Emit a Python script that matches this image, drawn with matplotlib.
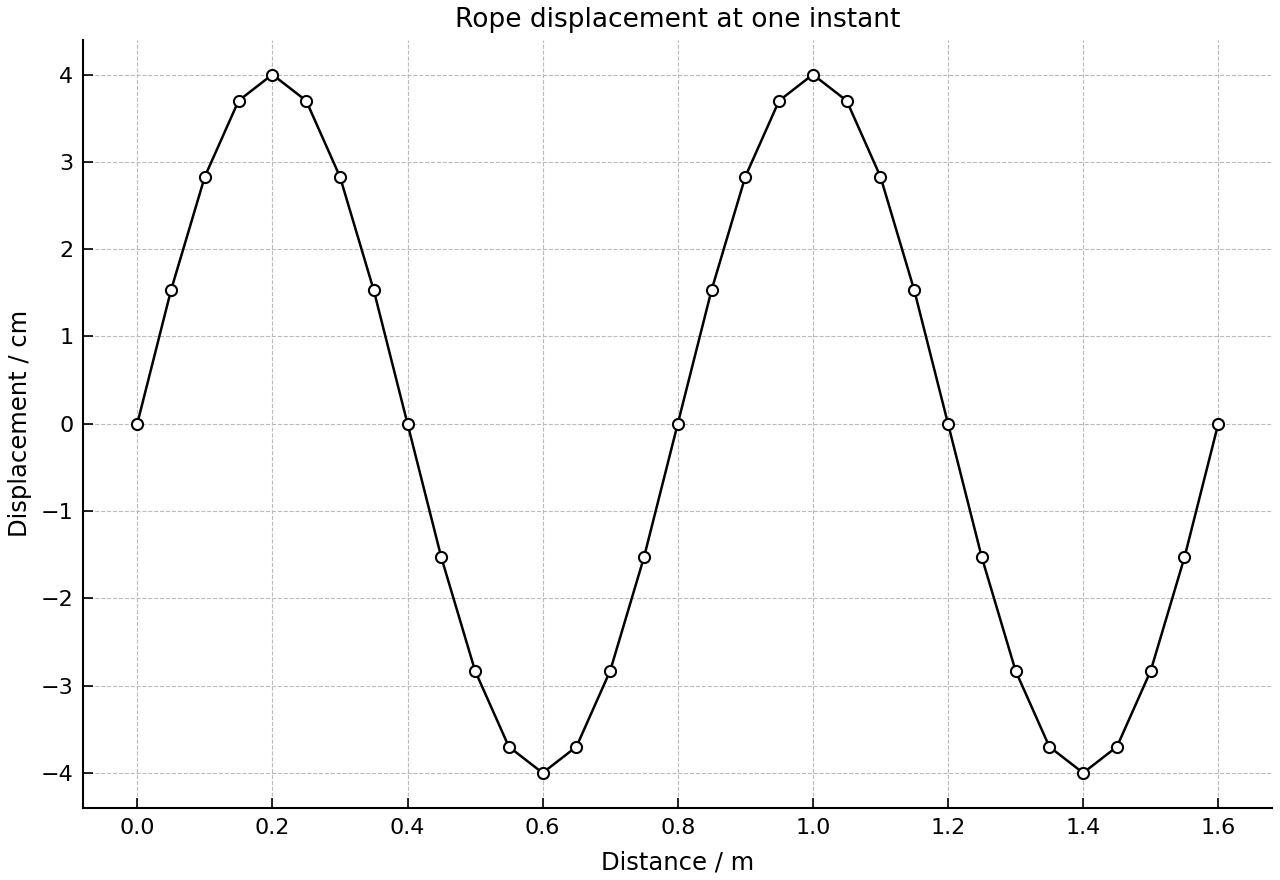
import matplotlib.pyplot as plt

distance = [0.00, 0.05, 0.10, 0.15, 0.20, 0.25, 0.30, 0.35, 0.40, 0.45, 0.50,
            0.55, 0.60, 0.65, 0.70, 0.75, 0.80, 0.85, 0.90, 0.95, 1.00, 1.05,
            1.10, 1.15, 1.20, 1.25, 1.30, 1.35, 1.40, 1.45, 1.50, 1.55, 1.60]
displacement = [0.00, 1.53, 2.83, 3.70, 4.00, 3.70, 2.83, 1.53, 0.00, -1.53, -2.83,
                -3.70, -4.00, -3.70, -2.83, -1.53, 0.00, 1.53, 2.83, 3.70, 4.00, 3.70,
                2.83, 1.53, 0.00, -1.53, -2.83, -3.70, -4.00, -3.70, -2.83, -1.53, 0.00]

fig, ax = plt.subplots(figsize=(12.8, 8.8), dpi=100)
fig.subplots_adjust(left=0.065, right=0.994, top=0.955, bottom=0.082)

ax.plot(distance, displacement, color='black', linewidth=1.8,
        marker='o', markersize=8, markerfacecolor='white',
        markeredgecolor='black', markeredgewidth=1.5, zorder=3)

ax.set_title('Rope displacement at one instant', fontsize=19, pad=9)
ax.set_xlabel('Distance / m', fontsize=17.5, labelpad=9)
ax.set_ylabel('Displacement / cm', fontsize=17.5, labelpad=6)

ax.grid(True, linestyle='--', color='#bbbbbb', linewidth=0.8)
ax.spines['top'].set_visible(False)
ax.spines['right'].set_visible(False)
ax.spines['left'].set_linewidth(1.5)
ax.spines['bottom'].set_linewidth(1.5)
ax.tick_params(direction='in', labelsize=16, width=1.2, length=7, pad=7)

plt.savefig('out.png')
plt.close()
